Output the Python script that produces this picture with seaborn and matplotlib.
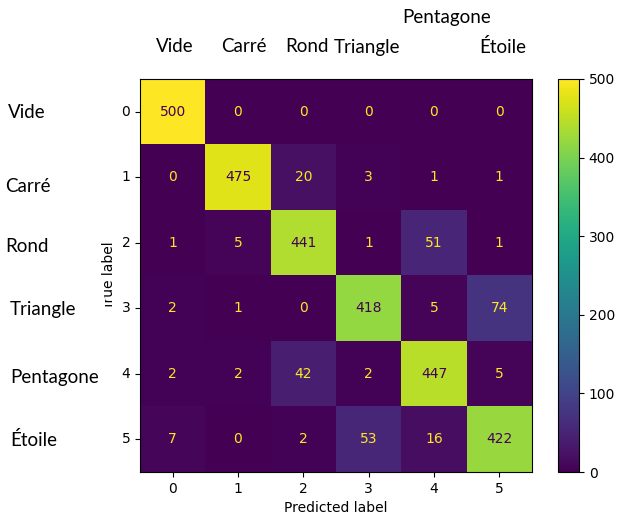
import numpy as np
import pandas as pd
import matplotlib.pyplot as plt
import seaborn as sns
from matplotlib.patches import Rectangle

# confusion matrix values (rows = true, cols = predicted)
classes = [0, 1, 2, 3, 4, 5]
row0 = [500, 0, 0, 0, 0, 0]
row1 = [0, 475, 20, 3, 1, 1]
row2 = [1, 5, 441, 1, 51, 1]
row3 = [2, 1, 0, 418, 5, 74]
row4 = [2, 2, 42, 2, 447, 5]
row5 = [7, 0, 2, 53, 16, 422]
shape_names = ['Vide', 'Carré', 'Rond', 'Triangle', 'Pentagone', 'Étoile']

cm = pd.DataFrame([row0, row1, row2, row3, row4, row5], index=classes, columns=classes)

W, H = 619, 519
fig = plt.figure(figsize=(W / 100, H / 100), dpi=100)
ax = fig.add_axes([140 / W, 1 - 472 / H, 392 / W, 393 / H])
cax = fig.add_axes([558 / W, 1 - 472 / H, 21 / W, 393 / H])

cmap = plt.get_cmap('viridis')
sns.heatmap(cm, ax=ax, cbar_ax=cax, cmap=cmap, vmin=cm.values.min(), vmax=cm.values.max(),
            annot=False, square=False)

# sklearn-style annotations: colour from cmap extremes
thresh = (cm.values.max() + cm.values.min()) / 2
for i in range(len(classes)):
    for j in range(len(classes)):
        v = cm.values[i, j]
        c = cmap(0.0) if v > thresh else cmap(1.0)
        ax.text(j + 0.5, i + 0.5, str(v), ha='center', va='center', color=c, fontsize=10)

for s in ax.spines.values():
    s.set_visible(True)
    s.set_linewidth(0.8)
ax.tick_params(length=3.5, width=0.8, labelsize=10)
ax.set_yticklabels(classes, rotation=0)
ax.set_xticklabels(classes, rotation=0)
ax.set_xlabel('Predicted label', fontsize=10)
ax.set_ylabel('True label', fontsize=10)

cb = ax.collections[0].colorbar
cb.outline.set_visible(True)
cb.outline.set_linewidth(0.8)
cb.set_ticks([0, 100, 200, 300, 400, 500])
cb.ax.tick_params(length=3.5, width=0.8, labelsize=10)

# overlaid class names
lab_font = dict(family=['Lato', 'DejaVu Sans'], fontsize=13.5, color='black')
top_pos = [(175, 47), (244, 47), (307, 47), (367, 47), (447, 18), (503, 47)]
left_pos = [(8, 113), (5, 187), (5, 246), (10, 310), (10, 377), (10, 440)]

# white backing that clips the start of the y label
fig.patches.append(Rectangle((8 / W, 1 - 322 / H), 97 / W, 24 / H, transform=fig.transFigure,
                             facecolor='white', edgecolor='none', zorder=10))

for name, (x, y) in zip(shape_names, top_pos):
    fig.text(x / W, 1 - y / H, name, ha='center', va='center', zorder=11, **lab_font)
for name, (x, y) in zip(shape_names, left_pos):
    fig.text(x / W, 1 - y / H, name, ha='left', va='center', zorder=11, **lab_font)

fig.savefig('out.png', dpi=100)
